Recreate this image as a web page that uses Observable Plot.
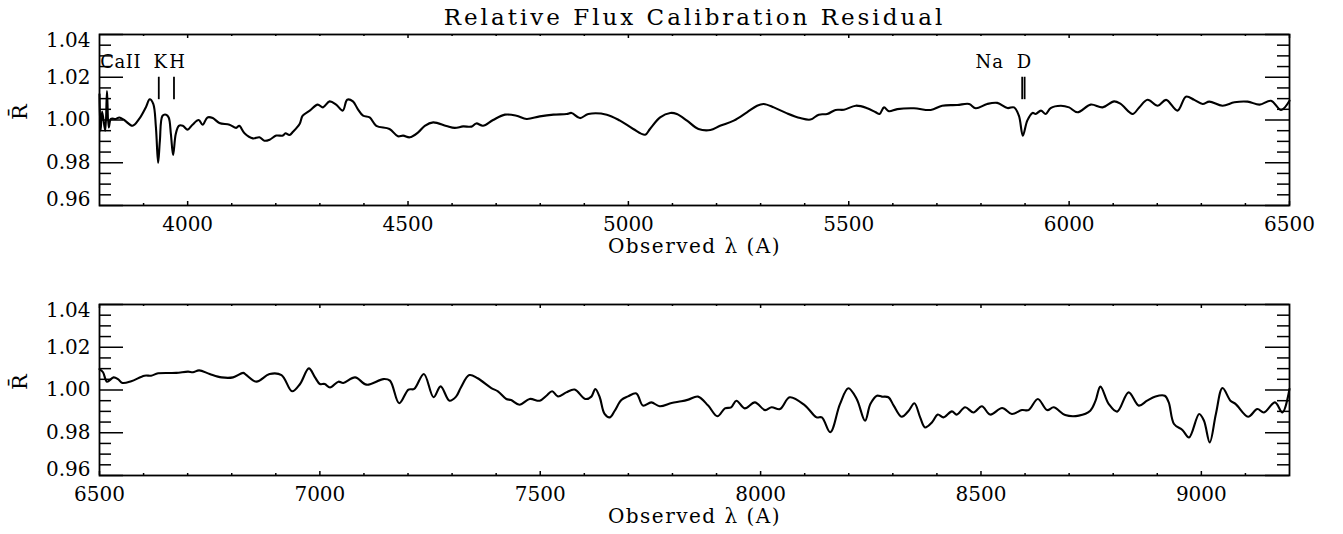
<!DOCTYPE html>
<html>
<head>
<meta charset="utf-8">
<script src="https://cdn.jsdelivr.net/npm/d3@7"></script>
<script src="https://cdn.jsdelivr.net/npm/@observablehq/plot@0.6"></script>
<style>
  body { margin: 0; background: #fff; }
  svg { display: block; }
</style>
</head>
<body>
<div id="chart"></div>
<script>
// ---- data: top panel (3800 - 6500 A) ----
const topWave = [3800,3802.5,3806,3813,3817,3821,3826,3837,3845,3856,3875,3890,3905,3914,3922,3928,3933,3937,3943,3951,3957,3962,3967,3973,3980,3989,4000,4011,4025,4034,4045,4057,4072,4095,4110,4117,4129,4148,4163,4174,4186,4201,4216,4222,4231,4239,4254,4261,4277,4295,4307,4322,4337,4352,4362,4375,4386,4398,4413,4428,4458,4477,4489,4504,4523,4538,4557,4587,4606,4625,4644,4655,4670,4693,4720,4746,4769,4799,4830,4860,4871,4890,4909,4951,4981,5011,5038,5049,5072,5095,5110,5133,5159,5186,5208,5239,5269,5292,5307,5330,5360,5390,5413,5432,5451,5470,5489,5516,5542,5561,5570,5580,5591,5610,5648,5686,5712,5746,5773,5788,5814,5837,5860,5875,5886,5895,5905,5917,5924,5936,5947,5958,5981,6000,6019,6049,6076,6102,6117,6144,6159,6178,6201,6220,6246,6265,6284,6303,6318,6348,6375,6405,6432,6458,6481,6500];
const topResid = [1.012,0.995,1.004,0.995,1.0135,0.9965,1.0005,1.0005,1.0012,1.0,0.9973,1.0005,1.0059,1.0097,1.0075,0.9966,0.9799,0.9903,1.002,1.0025,1.0012,0.9934,0.9836,0.9934,0.9973,0.9973,0.9955,0.9978,1.0,0.9978,1.0012,1.0009,0.9986,0.9978,0.9963,0.9973,0.9938,0.9914,0.9919,0.9903,0.9908,0.9927,0.9927,0.9938,0.993,0.9945,0.9981,1.002,1.0044,1.0072,1.0059,1.0087,1.0072,1.0044,1.0095,1.0087,1.0051,1.002,1.0012,0.9973,0.9958,0.9924,0.9927,0.9919,0.9942,0.9973,0.9989,0.9972,0.9963,0.997,0.9969,0.9984,0.9973,1.0,1.0025,1.002,1.0005,1.0017,1.0025,1.0028,1.0033,1.0009,1.0028,1.0025,0.9997,0.9958,0.9931,0.9958,1.0012,1.0033,1.0028,0.9997,0.9958,0.9953,0.9973,0.9997,1.0036,1.0067,1.0075,1.0059,1.0031,1.0009,1.0002,1.0025,1.0028,1.0047,1.0048,1.0067,1.0055,1.0036,1.0028,1.0059,1.0041,1.0051,1.0055,1.0047,1.0067,1.007,1.0075,1.0055,1.0075,1.008,1.0056,1.0059,1.002,0.9927,0.9997,1.0033,1.0028,1.0044,1.0028,1.0056,1.0067,1.0059,1.0036,1.0072,1.0059,1.0087,1.0075,1.0028,1.0059,1.0095,1.0067,1.0094,1.0044,1.0109,1.0094,1.0075,1.0086,1.0067,1.0083,1.0086,1.0072,1.009,1.0047,1.009];

// ---- data: bottom panel (6500 - 9200 A) ----
const botWave = [6500,6508,6517,6532,6542,6552,6572,6602,6617,6633,6674,6701,6712,6726,6750,6777,6803,6826,6832,6856,6886,6913,6937,6955,6975,6989,7000,7011,7023,7042,7053,7080,7106,7144,7159,7180,7201,7214,7236,7258,7274,7294,7309,7320,7339,7358,7389,7404,7423,7434,7453,7476,7499,7514,7527,7540,7559,7578,7602,7616,7625,7635,7646,7658,7669,7684,7699,7718,7733,7752,7771,7798,7820,7836,7858,7881,7902,7919,7933,7945,7964,7987,8010,8025,8044,8066,8101,8127,8139,8158,8180,8199,8218,8237,8249,8264,8275,8290,8302,8320,8336,8349,8362,8373,8389,8402,8415,8434,8445,8464,8483,8502,8521,8548,8570,8593,8608,8629,8650,8665,8691,8722,8748,8760,8771,8790,8809,8835,8858,8877,8896,8917,8926,8938,8957,8972,8995,9006,9019,9033,9048,9066,9078,9106,9127,9142,9167,9184,9200];
const botResid = [1.0098,1.0083,1.0039,1.0059,1.0051,1.0033,1.0041,1.0067,1.0067,1.0078,1.008,1.0086,1.0083,1.0092,1.0075,1.0059,1.0059,1.008,1.0072,1.0039,1.0075,1.007,0.9994,1.0028,1.0101,1.0059,1.0028,1.0028,1.0012,1.0039,1.0033,1.0059,1.0025,1.0051,1.0044,0.9938,1.0002,1.0005,1.0075,0.9966,1.0017,0.995,0.9969,1.0012,1.007,1.0055,1.0009,0.9994,0.9958,0.9953,0.9931,0.9958,0.995,0.9973,0.9994,0.997,0.9989,1.0002,0.9958,0.9969,1.0005,0.9966,0.9888,0.9872,0.9903,0.9953,0.997,0.9984,0.9927,0.9942,0.9924,0.9939,0.9947,0.9955,0.9969,0.9927,0.9877,0.9914,0.9919,0.995,0.9914,0.9942,0.9906,0.9919,0.9911,0.9966,0.9927,0.9872,0.9872,0.9802,0.9934,1.0008,0.9958,0.9856,0.9934,0.9973,0.9969,0.9966,0.9927,0.9875,0.9903,0.9938,0.9872,0.9825,0.9849,0.9885,0.9872,0.99,0.9885,0.9919,0.9895,0.9924,0.9885,0.9916,0.9888,0.9906,0.9906,0.9958,0.9906,0.9919,0.9883,0.988,0.9903,0.995,1.0016,0.9934,0.9899,0.9989,0.9927,0.995,0.997,0.9973,0.9942,0.9841,0.9813,0.9778,0.9888,0.9856,0.9755,0.9888,1.0009,0.995,0.9934,0.9875,0.9911,0.9895,0.9942,0.9895,1.0005];

// ---- axes ----
const topDomain = [3800, 6500];
const botDomain = [6500, 9200];
const topXMajor = [4000, 4500, 5000, 5500, 6000, 6500];
const botXMajor = [6500, 7000, 7500, 8000, 8500, 9000];
const topXMinor = d3.range(3900, 6500, 100).filter(d => d % 500 !== 0);
const botXMinor = d3.range(6600, 9200, 100).filter(d => d % 500 !== 0);
const yDomain = [0.96, 1.04];
const yMajor = [0.96, 0.98, 1.00, 1.02, 1.04];
const yMinor = [0.965,0.97,0.975,0.985,0.99,0.995,1.005,1.01,1.015,1.025,1.03,1.035];

// ---- line identifications (top panel) ----
const lineWave = [3934.5, 3969, 5893.5, 5899];
const lineLow = 1.0095, lineHigh = 1.02;
const labelText = ["CaII", "K", "H", "Na D"];
const labelWave = [3848, 3938, 3976, 5852];
const labelLevel = 1.0272;

const titleText = "Relative Flux Calibration Residual";
const xTitle = "Observed \u03bb (A)";
const yTitle = "R\u0304";

// letter / word spacing per text (emulating the wide IDL vector font)
const spacing = new Map([[titleText, [3, 0]], [xTitle, [1.5, 0]], ["Na D", [1, 6]], ["CaII", [0.5, 0]]]);

const W = 1343, H = 267, ML = 99, MR = 54;
const frameW = W - ML - MR;

function panel(wave, resid, domain, xMajor, xMinor, mt, mb, extra) {
  const frameH = H - mt - mb;
  const data = wave.map((w, i) => ({w, r: resid[i]}));
  const sw = 1.5;
  const marks = [
    Plot.line(data, {x: "w", y: "r", stroke: "black", strokeWidth: 2.1, curve: "catmull-rom"}),
    Plot.frame({stroke: "black", strokeWidth: 1.8}),
    Plot.tickY(yMajor, {y: d => d, insetRight: frameW - 24, strokeWidth: sw}),
    Plot.tickY(yMinor, {y: d => d, insetRight: frameW - 12, strokeWidth: sw}),
    Plot.tickY(yMajor, {y: d => d, insetLeft: frameW - 24, strokeWidth: sw}),
    Plot.tickY(yMinor, {y: d => d, insetLeft: frameW - 12, strokeWidth: sw}),
    Plot.tickX(xMajor, {x: d => d, insetBottom: frameH - 4, strokeWidth: sw}),
    Plot.tickX(xMinor, {x: d => d, insetBottom: frameH - 2, strokeWidth: sw}),
    Plot.tickX(xMajor, {x: d => d, insetTop: frameH - 4, strokeWidth: sw}),
    Plot.tickX(xMinor, {x: d => d, insetTop: frameH - 2, strokeWidth: sw}),
    Plot.text(xMajor, {x: d => d, frameAnchor: "bottom", dy: 19.5, lineAnchor: "middle", text: d => String(d), fontSize: 20}),
    Plot.text(yMajor.slice(1, -1), {y: d => d, frameAnchor: "left", dx: -9, textAnchor: "end", lineAnchor: "middle", text: d => d.toFixed(2), fontSize: 20}),
    Plot.text([yMajor[yMajor.length - 1]], {y: d => d, frameAnchor: "left", dx: -9, dy: 6.5, textAnchor: "end", lineAnchor: "middle", text: d => d.toFixed(2), fontSize: 20}),
    Plot.text([yMajor[0]], {y: d => d, frameAnchor: "left", dx: -9, dy: -6, textAnchor: "end", lineAnchor: "middle", text: d => d.toFixed(2), fontSize: 20}),
    Plot.text([xTitle], {frameAnchor: "bottom", dy: 41, lineAnchor: "middle", text: d => d, fontSize: 20}),
    Plot.text([yTitle], {frameAnchor: "left", dx: -79, rotate: -90, lineAnchor: "middle", text: d => d, fontSize: 21})
  ];
  const svg = Plot.plot({
    width: W, height: H,
    marginLeft: ML, marginRight: MR, marginTop: mt, marginBottom: mb,
    x: {domain, axis: null},
    y: {domain: yDomain, axis: null},
    style: {fontFamily: "DejaVu Serif", background: "white", color: "black", overflow: "visible"},
    marks: marks.concat(extra || [])
  });
  d3.select(svg).selectAll("text").each(function () {
    const s = spacing.get(this.textContent);
    if (s) {
      this.style.letterSpacing = s[0] + "px";
      if (s[1]) this.style.wordSpacing = s[1] + "px";
    }
  });
  return svg;
}

const topExtra = [
  Plot.ruleX(lineWave, {x: d => d, y1: lineLow, y2: lineHigh, stroke: "black", strokeWidth: 1.8}),
  Plot.text(d3.range(labelText.length), {x: i => labelWave[i], y: labelLevel, text: i => labelText[i], lineAnchor: "middle", fontSize: 18}),
  Plot.text([titleText], {frameAnchor: "top", dy: -16.5, lineAnchor: "middle", text: d => d, fontSize: 23})
];

const el = document.getElementById("chart");
el.appendChild(panel(topWave, topResid, topDomain, topXMajor, topXMinor, 34, 62, topExtra));
el.appendChild(panel(botWave, botResid, botDomain, botXMajor, botXMinor, 37, 59, []));
</script>
</body>
</html>
